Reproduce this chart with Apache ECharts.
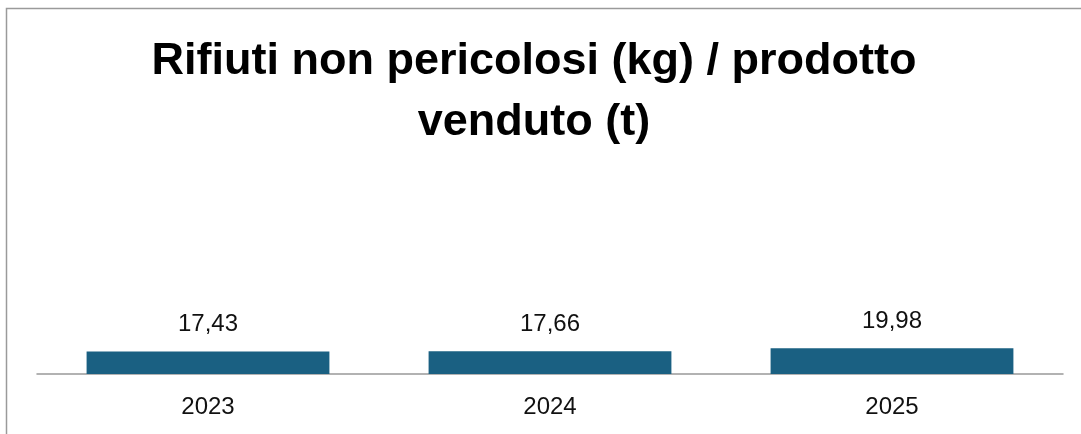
<!DOCTYPE html>
<html>
<head>
<meta charset="utf-8">
<script src="https://cdn.jsdelivr.net/npm/echarts@6/dist/echarts.min.js"></script>
<style>
  html, body { margin: 0; padding: 0; background: #fff; }
  #chart { width: 1081px; height: 434px; }
</style>
</head>
<body>
<div id="chart"></div>
<script>
// anni e valori (kg di rifiuti non pericolosi per t di prodotto venduto)
const years = ['2023', '2024', '2025']
const values = [17.43, 17.66, 19.98]
const titleText = 'Rifiuti non pericolosi (kg) / prodotto\nvenduto (t)'

const chart = echarts.init(document.getElementById('chart'))

chart.setOption({
  animation: false,
  backgroundColor: '#fff',
  // cornice del grafico (solo lato superiore e sinistro visibili)
  graphic: [{
    type: 'rect',
    shape: { x: 6.5, y: 8.5, width: 1100, height: 500 },
    style: { fill: 'none', stroke: '#9a9a9a', lineWidth: 1.5 },
    silent: true
  }],
  title: {
    text: titleText,
    left: 529,
    top: 26,
    textAlign: 'center',
    textStyle: {
      fontFamily: 'Liberation Sans',
      fontWeight: 'bold',
      fontSize: 45,
      lineHeight: 61,
      color: '#000'
    }
  },
  grid: {
    left: 37,
    right: 18,
    top: 117,
    bottom: 60,
    containLabel: false
  },
  xAxis: {
    type: 'category',
    data: years,
    axisLine: { lineStyle: { color: '#999', width: 1.5 } },
    axisTick: { show: false },
    axisLabel: {
      margin: 21,
      fontFamily: 'Liberation Sans',
      fontSize: 24,
      color: '#111'
    }
  },
  yAxis: {
    type: 'value',
    min: 0,
    max: 200,
    show: false,
    splitLine: { show: false }
  },
  series: [{
    type: 'bar',
    data: values,
    barCategoryGap: '29%',
    itemStyle: { color: '#1a6082' },
    label: {
      show: true,
      position: 'top',
      distance: 15,
      fontFamily: 'Liberation Sans',
      fontSize: 24,
      color: '#111',
      formatter: p => p.value.toFixed(2).replace('.', ',')
    }
  }]
})
</script>
</body>
</html>
